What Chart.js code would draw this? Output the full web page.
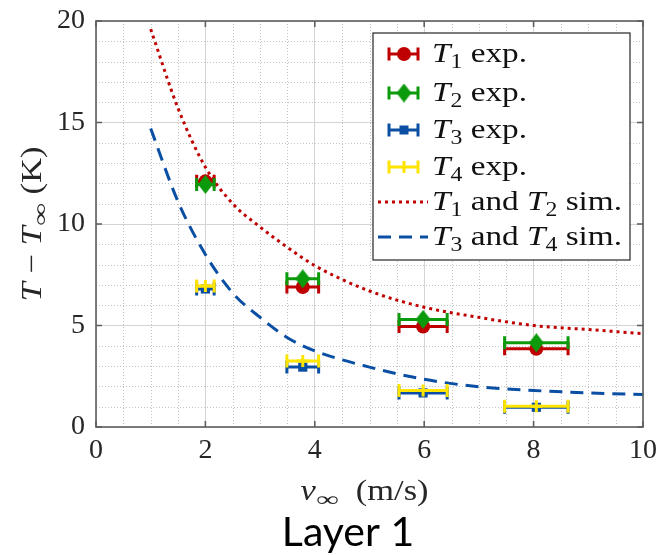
<!DOCTYPE html>
<html><head><meta charset="utf-8">
<script src="https://cdn.jsdelivr.net/npm/chart.js@4.4.0/dist/chart.umd.min.js"></script>
<style>html,body{margin:0;padding:0;background:#fff;overflow:hidden}#wrap{position:relative;width:657px;height:555px}canvas{display:block}</style>
</head><body><div id="wrap"><canvas id="c" width="657" height="555"></canvas></div>
<script>
// ---- data ----
const vExp   = [2.0, 3.78, 5.98, 8.05];
const xErr   = [0.16, 0.29, 0.44, 0.58];
const T1exp  = [12.1, 6.9, 4.95, 3.85];
const T2exp  = [11.95, 7.3, 5.3, 4.15];
const T3exp  = [6.8, 2.95, 1.68, 0.97];
const T4exp  = [6.95, 3.25, 1.8, 1.02];
const vSim   = [1, 1.5, 2, 2.5, 3, 3.5, 4, 5, 6, 7, 8, 9, 10];
const T12sim = [19.6, 15.7, 12.8, 11.0, 9.85, 8.85, 7.95, 6.7, 5.9, 5.4, 5.0, 4.8, 4.6];
const T34sim = [14.7, 11.1, 8.5, 6.6, 5.4, 4.4, 3.75, 2.95, 2.35, 1.98, 1.8, 1.68, 1.6];
const xTicks = [0, 2, 4, 6, 8, 10];
const yTicks = [0, 5, 10, 15, 20];
const xMinor = [0.5, 1, 1.5, 2.5, 3, 3.5, 4.5, 5, 5.5, 6.5, 7, 7.5, 8.5, 9, 9.5];
const yMinor = [1, 2, 3, 4, 6, 7, 8, 9, 11, 12, 13, 14, 16, 17, 18, 19];
const legendLabels = ["*T*_1 exp.", "*T*_2 exp.", "*T*_3 exp.", "*T*_4 exp.", "*T*_1 and *T*_2 sim.", "*T*_3 and *T*_4 sim."];
const xTitle = "*v*_∞  (m/s)";
const yTitle = "*T* − *T*_∞ (K)";
const caption = "Layer 1";

const RED = '#bf0000', GREEN = '#0b9a0b', BLUE = '#0a4fa3', YEL = '#ffe400';
const SERIF = "'Liberation Serif', 'DejaVu Serif', serif";
const INF_SX = 1.35;

function diamond(w, h, col) {
  const c = document.createElement('canvas'); c.width = w; c.height = h;
  const g = c.getContext('2d'); g.fillStyle = col;
  g.beginPath(); g.moveTo(w/2, 0); g.lineTo(w, h/2); g.lineTo(w/2, h); g.lineTo(0, h/2); g.closePath(); g.fill();
  return c;
}
const diamondImg = diamond(15, 19, GREEN);

function parseRich(s) {
  const out = []; let i = 0;
  while (i < s.length) {
    const c = s[i];
    if (c === '*') { const j = s.indexOf('*', i + 1); out.push({t: s.slice(i + 1, j), it: true}); i = j + 1; }
    else if (c === '_') { out.push({t: s[i + 1], sub: true}); i += 2; }
    else { let j = i; while (j < s.length && s[j] !== '*' && s[j] !== '_') j++; out.push({t: s.slice(i, j)}); i = j; }
  }
  return out;
}
const segFont = (sg, size) => (sg.it ? 'italic ' : '') + (sg.sub ? Math.round(size * 0.7) : size) + 'px ' + SERIF;
function segW(ctx, sg, size) { ctx.font = segFont(sg, size); return ctx.measureText(sg.t).width * (sg.t === '∞' ? INF_SX : 1); }
function richWidth(ctx, s, size) { return parseRich(s).reduce((a, sg) => a + segW(ctx, sg, size), 0); }
function drawRich(ctx, s, x, y, size, align, stretch) {
  const segs = parseRich(s);
  const w = richWidth(ctx, s, size) * stretch;
  const x0 = align === 'center' ? x - w / 2 : (align === 'right' ? x - w : x);
  ctx.save(); ctx.translate(x0, y); ctx.scale(stretch, 1);
  ctx.textBaseline = 'alphabetic'; ctx.textAlign = 'left';
  let cx = 0;
  for (const sg of segs) {
    ctx.font = segFont(sg, size);
    const dy = sg.sub ? size * 0.2 : 0;
    if (sg.t === '∞') { ctx.save(); ctx.translate(cx, dy); ctx.scale(INF_SX, 1); ctx.fillText(sg.t, 0, 0); ctx.restore(); }
    else ctx.fillText(sg.t, cx, dy);
    cx += segW(ctx, sg, size);
  }
  ctx.restore();
}

function errBar(ctx, x0, x1, y, col, cap) {
  ctx.save(); ctx.strokeStyle = col; ctx.lineWidth = 3; ctx.lineCap = 'butt';
  ctx.beginPath();
  ctx.moveTo(x0, y); ctx.lineTo(x1, y);
  ctx.moveTo(x0, y - cap); ctx.lineTo(x0, y + cap);
  ctx.moveTo(x1, y - cap); ctx.lineTo(x1, y + cap);
  ctx.stroke(); ctx.restore();
}

const errorBars = {
  id: 'errorBars',
  beforeDatasetDraw(chart, args) {
    const ds = chart.data.datasets[args.index];
    if (!ds.xErr) return;
    const xs = chart.scales.x, ys = chart.scales.y, ctx = chart.ctx;
    ds.data.forEach((p, i) => {
      errBar(ctx, xs.getPixelForValue(p.x - ds.xErr[i]), xs.getPixelForValue(p.x + ds.xErr[i]), ys.getPixelForValue(p.y), ds.borderColor, 6.5);
    });
  }
};

const minorGrid = {
  id: 'minorGrid',
  beforeDatasetsDraw(chart) {
    const {ctx, chartArea: a, scales: {x, y}} = chart;
    ctx.save(); ctx.strokeStyle = '#c4c4c4'; ctx.lineWidth = 1; ctx.setLineDash([1, 2]);
    ctx.beginPath();
    xMinor.forEach(v => { const p = Math.round(x.getPixelForValue(v)) + 0.5; ctx.moveTo(p, a.top); ctx.lineTo(p, a.bottom); });
    yMinor.forEach(v => { const p = Math.round(y.getPixelForValue(v)) + 0.5; ctx.moveTo(a.left, p); ctx.lineTo(a.right, p); });
    ctx.stroke(); ctx.restore();
  }
};

const frame = {
  id: 'frame',
  afterDatasetsDraw(chart) {
    const {ctx, chartArea: a, scales: {x, y}} = chart;
    ctx.save(); ctx.strokeStyle = '#5e5e5e'; ctx.lineWidth = 1.6;
    ctx.strokeRect(a.left, a.top, a.right - a.left, a.bottom - a.top);
    ctx.beginPath();
    const L = 6;
    xTicks.forEach(v => { const p = x.getPixelForValue(v); ctx.moveTo(p, a.bottom); ctx.lineTo(p, a.bottom - L); ctx.moveTo(p, a.top); ctx.lineTo(p, a.top + L); });
    yTicks.forEach(v => { const p = y.getPixelForValue(v); ctx.moveTo(a.left, p); ctx.lineTo(a.left + L, p); ctx.moveTo(a.right, p); ctx.lineTo(a.right - L, p); });
    ctx.stroke(); ctx.restore();
  }
};

const legendBox = {
  id: 'legendBox',
  afterDraw(chart) {
    const {ctx, chartArea: a} = chart;
    const bx = a.right - 270, by = a.top + 12, bw = 257, bh = 227;
    ctx.save();
    ctx.fillStyle = '#fff'; ctx.fillRect(bx, by, bw, bh);
    ctx.strokeStyle = '#262626'; ctx.lineWidth = 1.2; ctx.strokeRect(bx, by, bw, bh);
    const rowY = [21, 60, 97, 134, 169, 204];
    const fs = 28;
    const stretch = 190 / richWidth(ctx, legendLabels[4], fs);
    chart.data.datasets.forEach((ds, i) => {
      const cy = by + rowY[i];
      const sx0 = bx + 16, sx1 = bx + 45, scx = bx + 31;
      if (ds.xErr) {
        errBar(ctx, sx0, sx1, cy, ds.borderColor, 6.5);
        ctx.fillStyle = ds.backgroundColor; ctx.strokeStyle = ds.borderColor;
        if (ds.pointStyle === 'circle') { ctx.beginPath(); ctx.arc(scx, cy, 7, 0, 2 * Math.PI); ctx.fill(); }
        else if (ds.pointStyle === 'rect') { ctx.fillRect(scx - 4.5, cy - 4.5, 9, 9); }
        else if (ds.pointStyle === 'cross') { ctx.lineWidth = 3; ctx.beginPath(); ctx.moveTo(scx, cy - 6); ctx.lineTo(scx, cy + 6); ctx.stroke(); }
        else { ctx.drawImage(diamondImg, scx - 7.5, cy - 9.5); }
      } else {
        ctx.strokeStyle = ds.borderColor; ctx.lineWidth = 3; ctx.setLineDash(ds.borderDash);
        ctx.beginPath(); ctx.moveTo(bx + 5, cy); ctx.lineTo(bx + 55, cy); ctx.stroke(); ctx.setLineDash([]);
      }
      ctx.fillStyle = '#111';
      drawRich(ctx, ds.label, bx + 59, cy + 8, fs, 'left', stretch);
    });
    ctx.restore();
  }
};

const titles = {
  id: 'titles',
  afterDraw(chart) {
    const {ctx, chartArea: a} = chart;
    ctx.save(); ctx.fillStyle = '#262626';
    const fs = 29;
    drawRich(ctx, xTitle, (a.left + a.right) / 2 - 5, 500, fs, 'center', 128 / richWidth(ctx, xTitle, fs));
    ctx.translate(41, (a.top + a.bottom) / 2); ctx.rotate(-Math.PI / 2);
    drawRich(ctx, yTitle, 0, 0, fs, 'center', 155 / richWidth(ctx, yTitle, fs));
    ctx.restore();
    ctx.save(); ctx.fillStyle = '#000'; ctx.font = "41px Lato, 'Open Sans', sans-serif";
    ctx.textAlign = 'center'; ctx.textBaseline = 'alphabetic';
    ctx.fillText(caption, 348, 546);
    ctx.restore();
  }
};

const pts = arr => vExp.map((v, i) => ({x: v, y: arr[i]}));
const simPts = arr => vSim.map((v, i) => ({x: v, y: arr[i]}));
const zeroPad = s => { s.paddingLeft = 0; s.paddingRight = 0; s.paddingTop = 0; s.paddingBottom = 0; };

new Chart(document.getElementById('c'), {
  type: 'scatter',
  data: {
    datasets: [
      {label: legendLabels[0], data: pts(T1exp), xErr: xErr, backgroundColor: RED, borderColor: RED, pointStyle: 'circle', pointRadius: 7, borderWidth: 0, order: 4},
      {label: legendLabels[1], data: pts(T2exp), xErr: xErr, backgroundColor: GREEN, borderColor: GREEN, pointStyle: diamondImg, pointRadius: 8, order: 3},
      {label: legendLabels[2], data: pts(T3exp), xErr: xErr, backgroundColor: BLUE, borderColor: BLUE, pointStyle: 'rect', pointRadius: 6.5, borderWidth: 0, order: 2},
      {label: legendLabels[3], data: pts(T4exp), xErr: xErr, backgroundColor: YEL, borderColor: YEL, pointStyle: 'cross', pointRadius: 6, borderWidth: 3, order: 1},
      {type: 'line', label: legendLabels[4], data: simPts(T12sim), borderColor: RED, backgroundColor: RED, borderWidth: 3, borderDash: [3, 4], borderCapStyle: 'butt', pointRadius: 0, fill: false, cubicInterpolationMode: 'monotone', order: 6},
      {type: 'line', label: legendLabels[5], data: simPts(T34sim), borderColor: BLUE, backgroundColor: BLUE, borderWidth: 3, borderDash: [13, 8], borderCapStyle: 'butt', pointRadius: 0, fill: false, cubicInterpolationMode: 'monotone', order: 5}
    ]
  },
  options: {
    responsive: false, animation: false, devicePixelRatio: 1,
    layout: {padding: {left: 0, right: 14, top: 21, bottom: 0}},
    plugins: {legend: {display: false}, tooltip: {enabled: false}},
    scales: {
      x: {
        type: 'linear', min: 0, max: 10,
        afterBuildTicks: s => { s.ticks = xTicks.map(v => ({value: v})); },
        afterFit: s => { s.height = 128; zeroPad(s); },
        grid: {color: '#d4d4d4', lineWidth: 1, drawTicks: false},
        border: {display: false},
        ticks: {font: {family: SERIF, size: 28}, color: '#262626', padding: 7, maxRotation: 0, autoSkip: false}
      },
      y: {
        type: 'linear', min: 0, max: 20,
        afterBuildTicks: s => { s.ticks = yTicks.map(v => ({value: v})); },
        afterFit: s => { s.width = 96; zeroPad(s); },
        grid: {color: '#d4d4d4', lineWidth: 1, drawTicks: false},
        border: {display: false},
        ticks: {font: {family: SERIF, size: 28}, color: '#262626', padding: 11, autoSkip: false}
      }
    }
  },
  plugins: [minorGrid, errorBars, frame, legendBox, titles]
});
</script>
</body></html>
